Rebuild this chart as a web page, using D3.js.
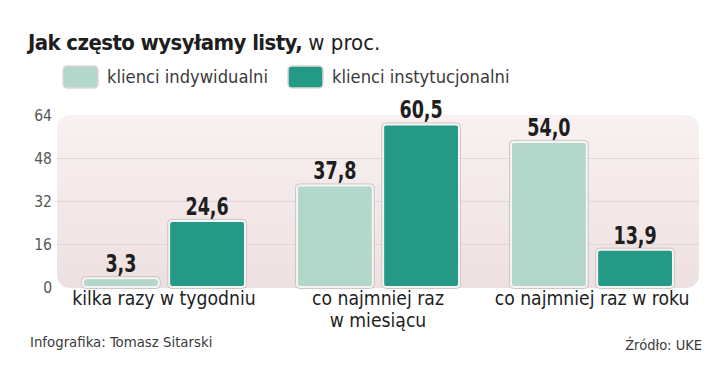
<!DOCTYPE html>
<html><head><meta charset="utf-8">
<script src="https://cdn.jsdelivr.net/npm/d3@7"></script>
<style>
body{margin:0;background:#fff;}
svg{display:block;}
</style></head>
<body><svg id="c" width="720" height="391"></svg>
<script>
const categories = [["kilka razy w tygodniu"], ["co najmniej raz", "w miesiącu"], ["co najmniej raz w roku"]];
const seriesNames = ["klienci indywidualni", "klienci instytucjonalni"];
const individual = [3.3, 37.8, 54.0];
const institutional = [24.6, 60.5, 13.9];
const yTicks = [0, 16, 32, 48, 64];
const colors = ["#b3d8cb", "#249a86"];

const svg = d3.select("#c");
const fontMain = "'DejaVu Sans Condensed','DejaVu Sans',sans-serif";

// squeeze text horizontally to mimic the narrow typeface of the original
function squeeze(sel, factor) {
  sel.each(function() {
    const n = this.getComputedTextLength();
    d3.select(this).attr("textLength", n * factor).attr("lengthAdjust", "spacingAndGlyphs");
  });
}

const x0 = d3.scaleBand().domain(d3.range(categories.length)).range([57, 699]).paddingInner(0).paddingOuter(0);
const x1 = d3.scaleBand().domain([0, 1]).range([26, 188]).paddingInner(0.12);
const y = d3.scaleLinear().domain([0, 64]).range([287, 115]);

const defs = svg.append("defs");
const grad = defs.append("linearGradient").attr("id", "bg").attr("x1", 0).attr("y1", 0).attr("x2", 0).attr("y2", 1);
grad.append("stop").attr("offset", "0%").attr("stop-color", "#f9f1f1");
grad.append("stop").attr("offset", "100%").attr("stop-color", "#eee0e1");

// plot background
svg.append("rect").attr("x", x0.range()[0]).attr("y", y(64))
  .attr("width", x0.range()[1] - x0.range()[0]).attr("height", y(0) - y(64) + 1)
  .attr("rx", 13).attr("fill", "url(#bg)");

// gridlines
svg.append("g").selectAll("line").data(yTicks.filter(t => t > 0 && t < 64)).join("line")
  .attr("x1", x0.range()[0]).attr("x2", x0.range()[1])
  .attr("y1", d => y(d) + 0.5).attr("y2", d => y(d) + 0.5)
  .attr("stroke", "#e4d4d5").attr("stroke-width", 1);

// y axis labels
const yAxis = d3.axisLeft(y).tickValues(yTicks).tickSize(0).tickPadding(0);
const ga = svg.append("g").attr("transform", "translate(52,0)").call(yAxis);
ga.select(".domain").remove();
ga.selectAll("text").attr("font-family", fontMain).attr("font-size", 15.5).attr("fill", "#555")
  .attr("dy", "0.35em");

// bars
const data = categories.map((c, i) => ({i, vals: [individual[i], institutional[i]]}));
const groups = svg.append("g").selectAll("g").data(data).join("g")
  .attr("transform", d => `translate(${x0(d.i)},0)`);
groups.selectAll("rect.bar").data(d => d.vals.map((v, s) => ({v, s}))).join("rect")
  .attr("class", "bar")
  .attr("x", d => x1(d.s)).attr("y", d => y(d.v))
  .attr("width", x1.bandwidth()).attr("height", d => y(0) - y(d.v))
  .attr("rx", 3).attr("fill", d => colors[d.s])
  .attr("stroke", "#f4f4f4").attr("stroke-width", 2);
groups.selectAll("rect.bar-outline").data(d => d.vals.map((v, s) => ({v, s}))).join("rect")
  .attr("class", "bar-outline")
  .attr("x", d => x1(d.s) - 1.5).attr("y", d => y(d.v) - 1.5)
  .attr("width", x1.bandwidth() + 3).attr("height", d => y(0) - y(d.v) + 3)
  .attr("rx", 4).attr("fill", "none").attr("stroke", "#cfc6c6").attr("stroke-width", 1);
const vals = groups.selectAll("text.val").data(d => d.vals.map((v, s) => ({v, s}))).join("text")
  .attr("class", "val")
  .attr("x", d => x1(d.s) + x1.bandwidth() / 2).attr("y", d => y(d.v) - 6)
  .attr("text-anchor", "middle").attr("font-family", fontMain).attr("font-weight", "bold")
  .attr("font-size", 25).attr("fill", "#1e1e1e")
  .text(d => d.v.toFixed(1).replace(".", ","));
squeeze(vals, 0.78);

// category labels
groups.each(function(d) {
  const t = d3.select(this).append("text").attr("text-anchor", "middle")
    .attr("font-family", fontMain).attr("font-size", 19.2).attr("fill", "#1e1e1e");
  categories[d.i].forEach((line, k) => {
    t.append("tspan").attr("x", x0.bandwidth() / 2).attr("y", 305 + k * 22).text(line);
  });
});

// title
const title = svg.append("text").attr("x", 28).attr("y", 50).attr("font-family", fontMain).attr("font-size", 22).attr("fill", "#1e1e1e");
title.append("tspan").attr("font-weight", "bold").attr("letter-spacing", -0.6).text("Jak często wysyłamy listy,");
title.append("tspan").attr("font-weight", "normal").text(" w proc.");

// legend
const legendX = [63, 288];
const lg = svg.append("g").selectAll("g").data(seriesNames).join("g")
  .attr("transform", (d, i) => `translate(${legendX[i]},66)`);
lg.append("rect").attr("width", 35).attr("height", 22).attr("rx", 4)
  .attr("fill", (d, i) => colors[i]).attr("stroke", "#e0d8d8").attr("stroke-width", 1.5);
lg.append("text").attr("x", 44).attr("y", 17).attr("font-family", fontMain).attr("font-size", 18.2)
  .attr("fill", "#3a3a3a").text(d => d);

// footer
svg.append("text").attr("x", 30).attr("y", 347).attr("font-family", fontMain).attr("font-size", 14.8)
  .attr("fill", "#3a3a3a").text("Infografika: Tomasz Sitarski");
svg.append("text").attr("x", 702).attr("y", 350).attr("text-anchor", "end").attr("font-family", fontMain).attr("font-size", 14.5)
  .attr("fill", "#3a3a3a").text("Źródło: UKE");
</script></body></html>
